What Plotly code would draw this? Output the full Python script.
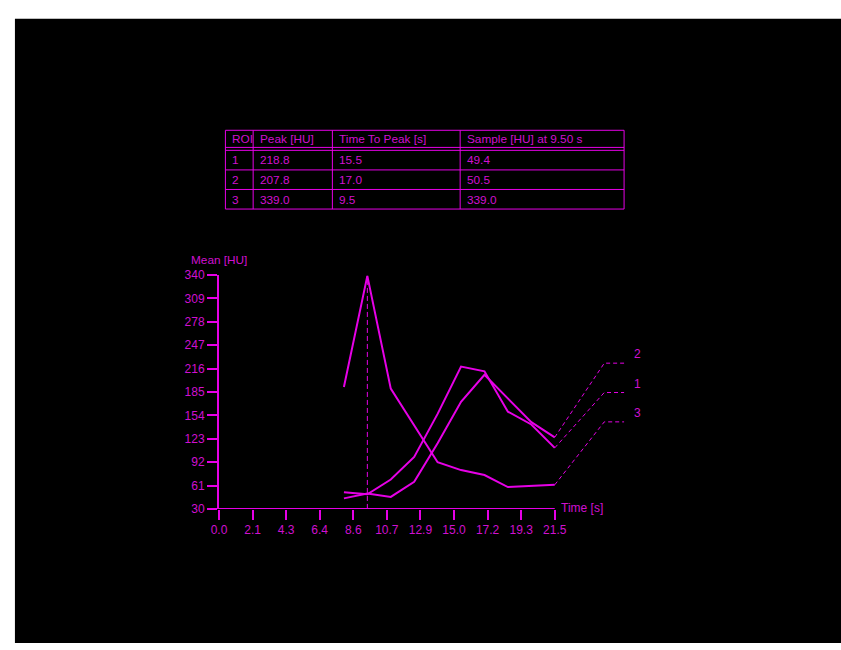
import plotly.graph_objects as go

# ---------------- data ----------------
times = [8.0, 9.5, 11.0, 12.5, 14.0, 15.5, 17.0, 18.5, 20.0, 21.5]
roi1 = [52, 49.4, 69, 99, 156, 218.8, 212.5, 159, 142, 111]
roi2 = [44, 50.5, 46, 66, 117, 172, 207.8, 176, 145, 125]
roi3 = [191.7, 339.0, 189.5, 141.5, 92, 81.5, 75, 59, 60, 62]
series_names = ["1", "2", "3"]

table_header = ["ROI", "Peak [HU]", "Time To Peak [s]", "Sample [HU] at 9.50 s"]
table_roi = ["1", "2", "3"]
table_peak = ["218.8", "207.8", "339.0"]
table_ttp = ["15.5", "17.0", "9.5"]
table_sample = ["49.4", "50.5", "339.0"]
sample_time = 9.5

x_tickvals = [0.0, 2.15, 4.3, 6.45, 8.6, 10.75, 12.9, 15.05, 17.2, 19.35, 21.5]
x_ticktext = ["0.0", "2.1", "4.3", "6.4", "8.6", "10.7", "12.9", "15.0", "17.2", "19.3", "21.5"]
y_tickvals = [30, 61, 92, 123, 154, 185, 216, 247, 278, 309, 340]

# ---------------- layout constants ----------------
W, H = 841, 650
LINE = "#e600e6"
TEXT = "#d010d0"
FONT = "Liberation Sans, Arial, sans-serif"

PLOT_L, PLOT_R, PLOT_T, PLOT_B = 213, 650, 274, 513
X_END = 21.5
X_END_PX = 552
x_max = X_END * (PLOT_R - PLOT_L) / (X_END_PX - PLOT_L)
Y_MIN, Y_MAX = 30, 340


def px(x):
    return x / W


def py(y):
    return 1 - y / H


def x_px_to_data(p):
    return (p - PLOT_L) / (X_END_PX - PLOT_L) * X_END


def y_px_to_data(p):
    return Y_MIN + (PLOT_B - p) / (PLOT_B - PLOT_T) * (Y_MAX - Y_MIN)


fig = go.Figure()

# curves
for vals in (roi1, roi2, roi3):
    fig.add_trace(go.Scatter(x=times, y=vals, mode="lines",
                             line=dict(color=LINE, width=2), showlegend=False,
                             hoverinfo="skip"))

# vertical dashed line at sample time
fig.add_trace(go.Scatter(x=[sample_time, sample_time],
                         y=[Y_MIN, max(float(v) for v in table_sample)],
                         mode="lines", line=dict(color=LINE, width=1, dash="5px,3px"),
                         showlegend=False, hoverinfo="skip"))

# leader lines to series labels
label_line_px = {"2": 364, "1": 394, "3": 424}
ends = {"1": roi1[-1], "2": roi2[-1], "3": roi3[-1]}
x_bend = x_px_to_data(602)
x_stop = x_px_to_data(622)
x_label = x_px_to_data(636)
for name in series_names:
    yl = y_px_to_data(label_line_px[name])
    fig.add_trace(go.Scatter(x=[times[-1], x_bend, x_stop], y=[ends[name], yl, yl],
                             mode="lines", line=dict(color=LINE, width=1, dash="4px,3px"),
                             showlegend=False, hoverinfo="skip"))
    fig.add_annotation(x=x_label, y=y_px_to_data(label_line_px[name] - 9), text=name,
                       showarrow=False, xanchor="center", yanchor="middle",
                       font=dict(family=FONT, size=12, color=TEXT))

shapes = []
# black background
shapes.append(dict(type="rect", xref="paper", yref="paper", x0=px(7), x1=px(W),
                   y0=py(12), y1=py(H), fillcolor="black", line=dict(width=0), layer="below"))
# x axis line
shapes.append(dict(type="line", xref="x", yref="y", x0=0, x1=X_END, y0=Y_MIN, y1=Y_MIN,
                   line=dict(color=LINE, width=2)))

# table
col_x = [219.5, 247.5, 327.5, 456.5, 622]
row_y = [126, 143.5, 146.5, 166.5, 186.5, 206.5]
for yy in row_y:
    shapes.append(dict(type="line", xref="paper", yref="paper", x0=px(col_x[0]), x1=px(col_x[-1]),
                       y0=py(yy), y1=py(yy), line=dict(color=LINE, width=1)))
for xx in col_x:
    shapes.append(dict(type="line", xref="paper", yref="paper", x0=px(xx), x1=px(xx),
                       y0=py(row_y[0]), y1=py(row_y[-1]), line=dict(color=LINE, width=1)))

text_rows = [table_header] + [list(r) for r in zip(table_roi, table_peak, table_ttp, table_sample)]
row_centers = [134.5, 156.5, 177, 197]
for r, row in enumerate(text_rows):
    for c, txt in enumerate(row):
        fig.add_annotation(xref="paper", yref="paper", x=px(col_x[c] + 5), y=py(row_centers[r]),
                           text=txt, showarrow=False, xanchor="left", yanchor="middle",
                           font=dict(family=FONT, size=11.8, color=TEXT))

# axis titles
fig.add_annotation(xref="paper", yref="paper", x=px(213), y=py(259), text="Mean [HU]",
                   showarrow=False, xanchor="center", yanchor="middle",
                   font=dict(family=FONT, size=11.8, color=TEXT))
fig.add_annotation(xref="paper", yref="paper", x=px(556), y=py(512), text="Time [s]",
                   showarrow=False, xanchor="left", yanchor="middle",
                   font=dict(family=FONT, size=12, color=TEXT))

fig.update_layout(
    width=W, height=H,
    margin=dict(l=0, r=0, t=0, b=0, pad=0),
    paper_bgcolor="white", plot_bgcolor="black",
    shapes=shapes,
    showlegend=False,
    xaxis=dict(domain=[px(PLOT_L), px(PLOT_R)], range=[0, x_max], showgrid=False,
               zeroline=False, showline=False, tickmode="array", tickvals=x_tickvals,
               ticktext=x_ticktext, ticks="outside", ticklen=10, tickwidth=2,
               tickcolor=LINE, tickfont=dict(family=FONT, size=12, color=TEXT)),
    yaxis=dict(domain=[1 - PLOT_B / H, 1 - PLOT_T / H], range=[Y_MIN, Y_MAX], showgrid=False,
               zeroline=False, showline=True, linecolor=LINE, linewidth=2,
               tickmode="array", tickvals=y_tickvals, ticks="outside", ticklen=10,
               tickwidth=2, tickcolor=LINE, tickfont=dict(family=FONT, size=12, color=TEXT)),
)

fig.write_html("out.html", config={"displayModeBar": False},
               post_script="document.body.style.margin='0px';document.body.style.overflow='hidden';")
